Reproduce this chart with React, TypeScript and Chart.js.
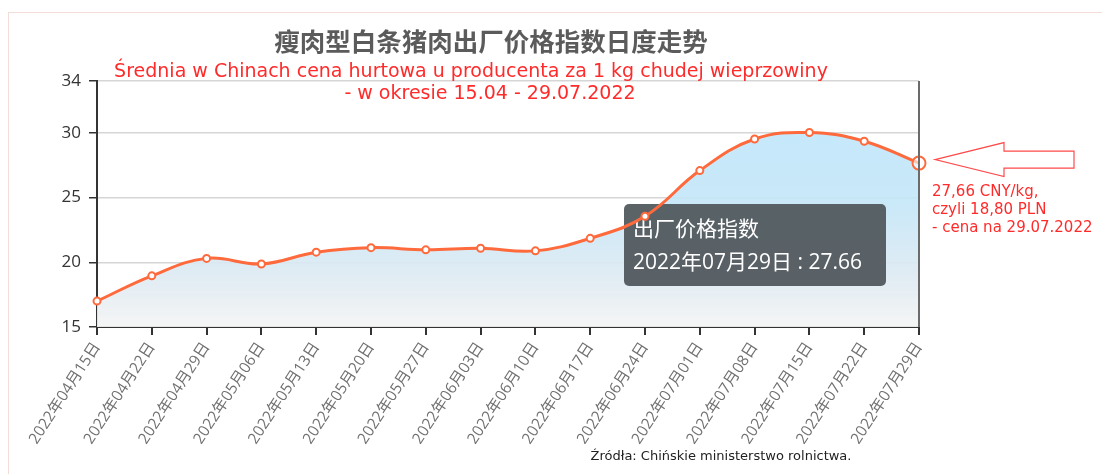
import React, { useEffect, useRef } from 'react';
import { Chart, registerables } from 'chart.js';

Chart.register(...registerables);

const labels = [
  '2022年04月15日', '2022年04月22日', '2022年04月29日', '2022年05月06日',
  '2022年05月13日', '2022年05月20日', '2022年05月27日', '2022年06月03日',
  '2022年06月10日', '2022年06月17日', '2022年06月24日', '2022年07月01日',
  '2022年07月08日', '2022年07月15日', '2022年07月22日', '2022年07月29日',
];
const values = [
  17.0, 18.95, 20.3, 19.87, 20.78, 21.13, 20.96, 21.08,
  20.88, 21.85, 23.55, 27.08, 29.52, 30.02, 29.35, 27.66,
];
const yTicks = [15, 20, 25, 30, 34];
const seriesName = '出厂价格指数';
const titleText = '瘦肉型白条猪肉出厂价格指数日度走势';
const subtitle1 = 'Średnia w Chinach cena hurtowa u producenta za 1 kg chudej wieprzowiny';
const subtitle2 = '- w okresie 15.04 - 29.07.2022';
const noteLines = ['27,66 CNY/kg,', 'czyli 18,80 PLN', '- cena na 29.07.2022'];
const sourceText = 'Źródła: Chińskie ministerstwo rolnictwa.';
const activeIndex = values.length - 1;

const LINE = '#ff6a3c';
const RED = '#ff2a2a';

export default function App() {
  const ref = useRef<HTMLCanvasElement | null>(null);

  useEffect(() => {
    const canvas = ref.current;
    if (!canvas) return;

    const overlay = {
      id: 'overlay',
      beforeDatasetsDraw(chart: any) {
        const meta = chart.getDatasetMeta(0);
        const pt = meta.data[activeIndex];
        if (!pt) return;
        const ctx = chart.ctx;
        const bx = pt.x - 295;
        const by = pt.y + 41;
        const bw = 262;
        const bh = 82;
        ctx.save();
        ctx.fillStyle = 'rgba(80,87,91,0.93)';
        ctx.beginPath();
        (ctx as any).roundRect(bx, by, bw, bh, 5);
        ctx.fill();
        ctx.fillStyle = '#ffffff';
        ctx.font = '21px "Open Sans", "Noto Sans CJK SC", sans-serif';
        ctx.textBaseline = 'middle';
        ctx.textAlign = 'left';
        ctx.fillText(seriesName, bx + 9, by + 26);
        ctx.fillText(labels[activeIndex] + ' : ' + values[activeIndex].toFixed(2), bx + 9, by + 59);
        ctx.restore();
      },
      afterDraw(chart: any) {
        const ctx = chart.ctx;
        const ca = chart.chartArea;
        ctx.save();
        ctx.strokeStyle = '#6b6b6b';
        ctx.lineWidth = 2;
        ctx.beginPath();
        ctx.moveTo(ca.right, ca.top);
        ctx.lineTo(ca.right, ca.bottom);
        ctx.stroke();
        const pt = chart.getDatasetMeta(0).data[activeIndex];
        const tx = pt.x + 16;
        const ty = pt.y - 3.5;
        const hb = tx + 69;
        const re = tx + 139;
        ctx.strokeStyle = '#ff4a4a';
        ctx.fillStyle = '#ffffff';
        ctx.lineWidth = 1.2;
        ctx.beginPath();
        ctx.moveTo(tx, ty);
        ctx.lineTo(hb, ty - 17);
        ctx.lineTo(hb, ty - 8.5);
        ctx.lineTo(re, ty - 8.5);
        ctx.lineTo(re, ty + 8.5);
        ctx.lineTo(hb, ty + 8.5);
        ctx.lineTo(hb, ty + 17);
        ctx.closePath();
        ctx.fill();
        ctx.stroke();
        ctx.restore();
      },
    };

    const chart = new Chart(canvas, {
      type: 'line',
      data: {
        labels,
        datasets: [
          {
            label: seriesName,
            data: values,
            borderColor: LINE,
            borderWidth: 3,
            tension: 0.4,
            pointRadius: (c: any) => (c.dataIndex === activeIndex ? 6.5 : 3.5),
            pointBorderWidth: 2,
            pointBackgroundColor: (c: any) => (c.dataIndex === activeIndex ? 'rgba(255,255,255,0.6)' : '#ffffff'),
            pointBorderColor: LINE,
            fill: 'start',
            backgroundColor: (c: any) => {
              const ca = c.chart.chartArea;
              if (!ca) return 'rgba(196,232,250,0.9)';
              const g = c.chart.ctx.createLinearGradient(0, ca.top, 0, ca.bottom);
              g.addColorStop(0, 'rgba(188,230,252,0.9)');
              g.addColorStop(0.5, 'rgba(196,230,248,0.9)');
              g.addColorStop(0.8, 'rgba(222,234,242,0.9)');
              g.addColorStop(1, 'rgba(244,244,244,0.92)');
              return g;
            },
          },
        ],
      },
      options: {
        responsive: false,
        animation: false,
        layout: { padding: { top: 81, right: 183, left: 0, bottom: 0 } },
        plugins: {
          legend: { display: false },
          title: { display: false },
          tooltip: { enabled: false },
          filler: { drawTime: 'beforeDatasetsDraw' } as any,
        },
        scales: {
          x: {
            offset: false,
            afterFit: (s: any) => { s.height = 147; },
            grid: {
              drawOnChartArea: false,
              drawTicks: true,
              tickLength: 8,
              tickColor: '#333333',
              lineWidth: 2,
            },
            border: { display: true, color: '#333333', width: 2 },
            ticks: {
              autoSkip: false,
              minRotation: 57,
              maxRotation: 57,
              padding: 4,
              color: '#707070',
              font: { family: '"Open Sans", "Noto Sans CJK SC", sans-serif', size: 15.5 },
            },
          },
          y: {
            min: 15,
            max: 34,
            afterFit: (s: any) => { s.width = 97; },
            afterBuildTicks: (s: any) => { s.ticks = yTicks.map((v) => ({ value: v })); },
            grid: {
              color: '#d6d6d6',
              lineWidth: 1.5,
              drawTicks: true,
              tickLength: 8,
              tickColor: '#333333',
            },
            border: { display: true, color: '#333333', width: 2 },
            ticks: {
              padding: 8,
              color: '#333333',
              font: { family: '"Open Sans", sans-serif', size: 17 },
            },
          },
        },
      },
      plugins: [overlay],
    } as any);

    return () => chart.destroy();
  }, []);

  const abs: React.CSSProperties = { position: 'absolute', whiteSpace: 'nowrap', lineHeight: 1 };

  return (
    <div style={{ position: 'fixed', left: 0, top: 0, width: 1102, height: 474, background: '#ffffff', overflow: 'hidden' }}>
      <div style={{ position: 'absolute', left: 8, top: 12, right: -2, bottom: -2, borderLeft: '1px solid #f4dcd8', borderTop: '1px solid #f4dcd8' }} />
      <canvas ref={ref} width={1102} height={474} style={{ position: 'absolute', left: 0, top: 0, width: 1102, height: 474 }} />
      <div style={{ ...abs, left: 491, top: 40, transform: 'translate(-50%,-50%)', fontFamily: '"Noto Sans CJK SC", sans-serif', fontWeight: 700, fontSize: 25.5, color: '#5b5b5b' }}>{titleText}</div>
      <div style={{ ...abs, left: 471, top: 70, transform: 'translate(-50%,-50%)', fontFamily: '"DejaVu Sans", sans-serif', fontSize: 19, color: RED }}>{subtitle1}</div>
      <div style={{ ...abs, left: 490, top: 92, transform: 'translate(-50%,-50%)', fontFamily: '"DejaVu Sans", sans-serif', fontSize: 19, color: RED }}>{subtitle2}</div>
      {noteLines.map((t, i) => (
        <div key={i} style={{ ...abs, left: 932, top: 191 + i * 18, transform: 'translateY(-50%)', fontFamily: '"DejaVu Sans", sans-serif', fontSize: 15, color: RED }}>{t}</div>
      ))}
      <div style={{ ...abs, left: 721, top: 455, transform: 'translate(-50%,-50%)', fontFamily: '"DejaVu Sans", sans-serif', fontSize: 13, color: '#222222' }}>{sourceText}</div>
    </div>
  );
}
